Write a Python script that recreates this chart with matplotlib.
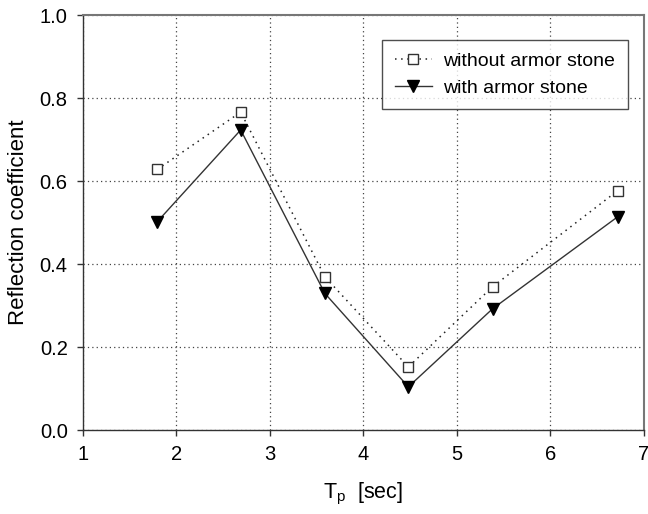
import matplotlib
matplotlib.use("Agg")
import matplotlib.pyplot as plt

tp = [1.795, 2.687, 3.588, 4.48, 5.38, 6.72]
without_stone = [0.628, 0.766, 0.369, 0.152, 0.345, 0.577]
with_stone = [0.502, 0.723, 0.329, 0.104, 0.292, 0.514]
xticks = [1, 2, 3, 4, 5, 6, 7]
yticks = [0.0, 0.2, 0.4, 0.6, 0.8, 1.0]

plt.rcParams['font.family'] = ['Liberation Sans', 'DejaVu Sans']

fig = plt.figure(figsize=(6.48, 5.14), dpi=100)
ax = fig.add_axes([0.128, 0.1634, 0.8658, 0.8074])

ax.plot(tp, without_stone, linestyle=(0, (1, 3)), color='#222222', linewidth=1.1,
        marker='s', markersize=7, markerfacecolor='white', markeredgecolor='#333333',
        markeredgewidth=1.0, label='without armor stone')
ax.plot(tp, with_stone, linestyle='-', color='#333333', linewidth=1.0,
        marker='v', markersize=9, markerfacecolor='black', markeredgecolor='black',
        label='with armor stone')

ax.set_xlim(1, 7)
ax.set_ylim(0, 1.0)
ax.set_xticks(xticks)
ax.set_yticks(yticks)
ax.set_xticklabels([str(v) for v in xticks])
ax.set_yticklabels([f"{v:.1f}" for v in yticks])
ax.tick_params(axis='both', labelsize=14.5, direction='out', length=4, width=1.0,
               color='#333333', pad=7)
ax.tick_params(top=False, right=False)

ax.grid(True, linestyle=(0, (1, 2.5)), color='#444444', linewidth=0.9)
ax.set_axisbelow(True)

for s in ['left', 'bottom']:
    ax.spines[s].set_color('#333333')
    ax.spines[s].set_linewidth(1.0)
for s in ['right', 'top']:
    ax.spines[s].set_color('#777777')
    ax.spines[s].set_linewidth(1.5)

ax.set_xlabel(r'T$_\mathregular{p}$  [sec]', fontsize=15.5, labelpad=12)
ax.set_ylabel('Reflection coefficient', fontsize=16, labelpad=8)

leg = ax.legend(loc='upper right', bbox_to_anchor=(0.971, 0.940), borderaxespad=0,
                fontsize=14, frameon=True, fancybox=False, handlelength=1.9,
                handletextpad=0.6, borderpad=0.65, labelspacing=0.45)
leg.get_frame().set_edgecolor('#222222')
leg.get_frame().set_linewidth(1.0)

fig.savefig('out.png', dpi=100)
